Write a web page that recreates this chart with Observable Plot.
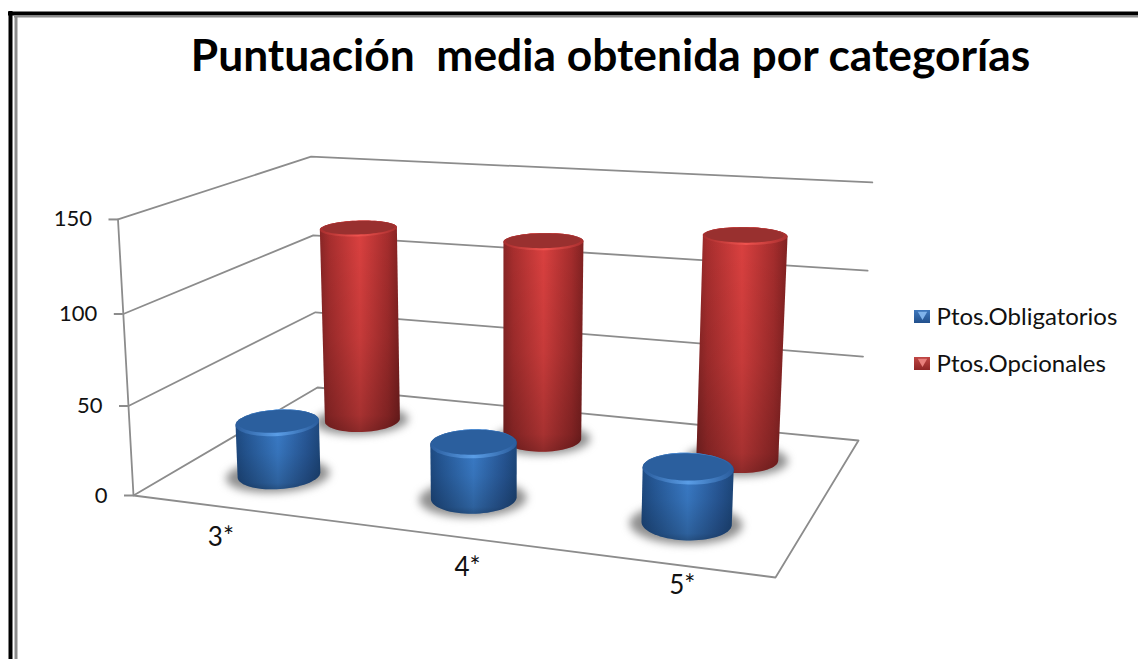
<!DOCTYPE html>
<html lang="es">
<head>
<meta charset="utf-8">
<title>Puntuación media obtenida por categorías</title>
<script src="https://cdn.jsdelivr.net/npm/d3@7"></script>
<script src="https://cdn.jsdelivr.net/npm/@observablehq/plot@0.6"></script>
<style>
  html, body { margin: 0; padding: 0; background: #fff; overflow: hidden; }
  svg text { white-space: pre; }
</style>
</head>
<body>
<div id="chart"></div>
<script>
// Chart values
const chartTitle = "Puntuación  media obtenida por categorías";
const categories = ["3*", "4*", "5*"];
const seriesNames = ["Ptos.Obligatorios", "Ptos.Opcionales"];
const obligatorios = [30, 30, 29];
const opcionales = [118, 117, 127];
const valueTicks = [0, 50, 100, 150];

const W = 1138, H = 659, VMAX = 150;
const FONT = "Lato, 'Open Sans', sans-serif";

// Camera: screen positions of the plot box corners, solved into a projective map.
const floorFrontLeft = [133, 495], floorFrontRight = [775, 577],
      floorBackRight = [858, 440], floorBackLeft = [317, 387];
const topFrontLeft = [118, 217], topBackLeft = [310, 155], topBackRight = [872, 185];

function floorMatrix(p0, p1, p2, p3) {
  const dx1 = p1[0] - p2[0], dx2 = p3[0] - p2[0], sx = p0[0] - p1[0] + p2[0] - p3[0];
  const dy1 = p1[1] - p2[1], dy2 = p3[1] - p2[1], sy = p0[1] - p1[1] + p2[1] - p3[1];
  const den = dx1 * dy2 - dx2 * dy1;
  const g = (sx * dy2 - dx2 * sy) / den, h = (dx1 * sy - sx * dy1) / den;
  return {
    a: p1[0] - p0[0] + g * p1[0], b: p3[0] - p0[0] + h * p3[0], c: p0[0],
    d: p1[1] - p0[1] + g * p1[1], e: p3[1] - p0[1] + h * p3[1], f: p0[1],
    g, h
  };
}
const M = floorMatrix(floorFrontLeft, floorFrontRight, floorBackRight, floorBackLeft);
const homog = (u, w) => [M.a * u + M.b * w + M.c, M.d * u + M.e * w + M.f, M.g * u + M.h * w + 1];

function solve3(A, b) {
  const m = A.map((r, i) => [...r, b[i]]);
  for (let i = 0; i < 3; i++) {
    let p = i;
    for (let k = i + 1; k < 3; k++) if (Math.abs(m[k][i]) > Math.abs(m[p][i])) p = k;
    [m[i], m[p]] = [m[p], m[i]];
    for (let k = 0; k < 3; k++) {
      if (k === i) continue;
      const t = m[k][i] / m[i][i];
      for (let j = i; j < 4; j++) m[k][j] -= t * m[i][j];
    }
  }
  return m.map((r, i) => r[3] / r[i]);
}

// Least-squares fit of the vertical direction from the three known top corners.
function verticalVector() {
  const rows = [], rhs = [];
  [[0, 0, topFrontLeft], [0, 1, topBackLeft], [1, 1, topBackRight]].forEach(([u, w, p]) => {
    const [X, Y, Z] = homog(u, w);
    rows.push([1, 0, -p[0]]); rhs.push(p[0] * Z - X);
    rows.push([0, 1, -p[1]]); rhs.push(p[1] * Z - Y);
  });
  const AtA = [0, 1, 2].map(i => [0, 1, 2].map(j => d3.sum(rows, r => r[i] * r[j])));
  const Atb = [0, 1, 2].map(i => d3.sum(rows, (r, k) => r[i] * rhs[k]));
  return solve3(AtA, Atb);
}
const V = verticalVector();

// u: along the categories (0-1), w: depth (0-1), v: value
function project(u, w, v) {
  const [X, Y, Z] = homog(u, w), t = v / VMAX;
  const d = Z + t * V[2];
  return { x: (X + t * V[0]) / d, y: (Y + t * V[1]) / d };
}

const uOf = i => (i + 0.5) / categories.length;
const depthOf = [0.258, 0.75];

// Cylinder cross-section in floor coordinates: the floor is sheared by the camera,
// so the circle needs cross terms to appear as a level ellipse.
const majorAxis = [0.0589, 0.0447], minorAxis = [0.0294, -0.1027];

function ring(u, w, v, sa = 1, sb = sa) {
  return d3.range(72).map(i => {
    const t = i / 72 * 2 * Math.PI, c = sa * Math.cos(t), s = sb * Math.sin(t);
    return project(u + majorAxis[0] * c + minorAxis[0] * s, w + majorAxis[1] * c + minorAxis[1] * s, v);
  });
}
function hull(a, b) {
  return d3.polygonHull(a.concat(b).map(p => [p.x, p.y])).map(([x, y]) => ({ x, y }));
}
const tag = (pts, id) => pts.map(p => ({ ...p, id }));

// Gradient definitions shared by the cylinders and the legend swatches
function gradients() {
  const stops = (id, list, attrs = "") =>
    `<linearGradient id="${id}" ${attrs}>` +
    list.map(([o, c, a = 1]) => `<stop offset="${o}" stop-color="${c}" stop-opacity="${a}"/>`).join("") +
    `</linearGradient>`;
  const defs = document.createElementNS("http://www.w3.org/2000/svg", "defs");
  defs.innerHTML =
    stops("bodyBlue", [[0, "#1f4d86"], [0.12, "#265a9a"], [0.5, "#3c80cf"], [0.85, "#28599a"], [1, "#1e4a80"]]) +
    stops("bodyRed", [[0, "#8a2626"], [0.12, "#a82e2e"], [0.5, "#dc4140"], [0.85, "#a62d2d"], [1, "#822222"]]) +
    stops("rimBlue", [[0, "#2a5c9c"], [0.5, "#5a9de6"], [1, "#2a5c9c"]]) +
    stops("rimRed", [[0, "#a82e2e"], [0.5, "#f0534f"], [1, "#a82e2e"]]) +
    stops("fade", [[0, "#000", 0], [0.55, "#000", 0.1], [0.92, "#000", 0.24], [1, "#000", 0.36]], 'x1="0" y1="0" x2="0" y2="1"') +
    stops("swatchBlue", [[0, "#3f78bd"], [1, "#22508c"]], 'x1="0" y1="0" x2="0" y2="1"') +
    stops("swatchRed", [[0, "#c04644"], [1, "#8f2626"]], 'x1="0" y1="0" x2="0" y2="1"');
  return defs;
}

const closedLine = (pts, fill, extra = {}) =>
  Plot.line(pts, { x: "x", y: "y", z: "id", fill, stroke: "none", curve: "linear-closed", ...extra });

// One series row of cylinders: shadow, body, shading and bevelled cap
function cylinders(values, row, body, rim, cap) {
  const w = depthOf[row];
  const items = values.map((v, i) => ({ v, u: uOf(i), i }));
  const shadow = items.flatMap(d => tag(ring(d.u, w - 0.006, 0, 1.25, 1.16), d.i));
  const bodies = items.flatMap(d => tag(hull(ring(d.u, w, 0), ring(d.u, w, d.v)), d.i));
  const rims = items.flatMap(d => tag(ring(d.u, w, d.v), d.i));
  const caps = items.flatMap(d => tag(ring(d.u - minorAxis[0] * 0.1, w - minorAxis[1] * 0.1, d.v, 0.94, 0.86), d.i));
  return [
    closedLine(shadow, "#6f6f6f", { fillOpacity: 0.78, imageFilter: "blur(4px)" }),
    closedLine(bodies, `url(#${body})`),
    closedLine(bodies, "url(#fade)"),
    closedLine(rims, `url(#${rim})`),
    closedLine(caps, cap)
  ];
}

// Plot box outlines
const GRID = "#8c8c8c";
const boxLines = [
  ...valueTicks.filter(v => v > 0).flatMap(v => tag([project(0, 0, v), project(0, 1, v), project(1, 1, v)], "g" + v)),
  ...tag([project(0, 0, 0), project(1, 0, 0), project(1, 1, 0), project(0, 1, 0), project(0, 0, 0)], "floor"),
  ...tag([project(0, 0, 0), project(0, 0, VMAX)], "edge")
];
const tickRows = valueTicks.map(v => ({ v, ...project(0, 0, v) }));
// Category labels sit below the front edge, each with its own small offset
const labelShift = [[47, -6], [81, -5], [61, -19]];
const catRows = categories.map((c, i) => {
  const p = project(uOf(i), -0.25, 0);
  return { c, x: p.x + labelShift[i][0], y: p.y + labelShift[i][1] };
});
const legendRows = seriesNames.map((name, i) => ({ name, i, y: 317 + i * 47 }));

const chart = Plot.plot({
  width: W, height: H,
  margin: 0,
  x: { domain: [0, W], range: [0, W], axis: null },
  y: { domain: [0, H], range: [0, H], axis: null },
  style: { background: "#fff" },
  marks: [
    gradients,
    // Outer frame
    Plot.ruleX([10], { y1: 11, y2: H, stroke: "#000", strokeWidth: 4 }),
    Plot.ruleY([13], { x1: 8, x2: W, stroke: "#000", strokeWidth: 4 }),
    Plot.ruleX([15.5], { y1: 15, y2: H, stroke: "#8c8c8c", strokeWidth: 3 }),
    Plot.ruleY([16], { x1: 14, x2: W, stroke: "#8c8c8c", strokeWidth: 2 }),
    // Title
    Plot.text([chartTitle], {
      x: 610, y: 56, text: d => d, fontFamily: FONT, fontWeight: 700, fontSize: 44.3, fill: "#000", textAnchor: "middle"
    }),
    // Box, grid and value axis
    Plot.line(boxLines, { x: "x", y: "y", z: "id", stroke: GRID, strokeWidth: 1.8 }),
    Plot.ruleY(tickRows, { y: "y", x1: d => d.x - 9, x2: "x", stroke: GRID, strokeWidth: 2 }),
    Plot.text(tickRows, {
      x: d => d.x - 26, y: "y", text: d => String(d.v), fontFamily: FONT, fontSize: 22, fill: "#111", textAnchor: "end"
    }),
    Plot.text(catRows, {
      x: "x", y: "y", text: "c", fontFamily: FONT, fontSize: 26, fill: "#111", textAnchor: "middle"
    }),
    // Back row first so the front row overlaps it
    ...cylinders(opcionales, 1, "bodyRed", "rimRed", "#99302f"),
    ...cylinders(obligatorios, 0, "bodyBlue", "rimBlue", "#2b5f9e"),
    // Legend
    Plot.rect(legendRows.filter(d => d.i === 0), { x1: 914, x2: 930, y1: d => d.y - 7, y2: d => d.y + 6, fill: "url(#swatchBlue)" }),
    Plot.rect(legendRows.filter(d => d.i === 1), { x1: 914, x2: 930, y1: d => d.y - 7, y2: d => d.y + 6, fill: "url(#swatchRed)" }),
    Plot.dot(legendRows, {
      x: 922, y: d => d.y - 3, symbol: "triangle2", rotate: 180, r: 4.5, stroke: "none",
      fill: d => d.i === 0 ? "#7fb2ea" : "#e87f7c"
    }),
    Plot.text(legendRows, {
      x: 936, y: "y", text: "name", fontFamily: FONT, fontSize: 24, fill: "#111", textAnchor: "start"
    })
  ]
});
document.getElementById("chart").appendChild(chart);
</script>
</body>
</html>
